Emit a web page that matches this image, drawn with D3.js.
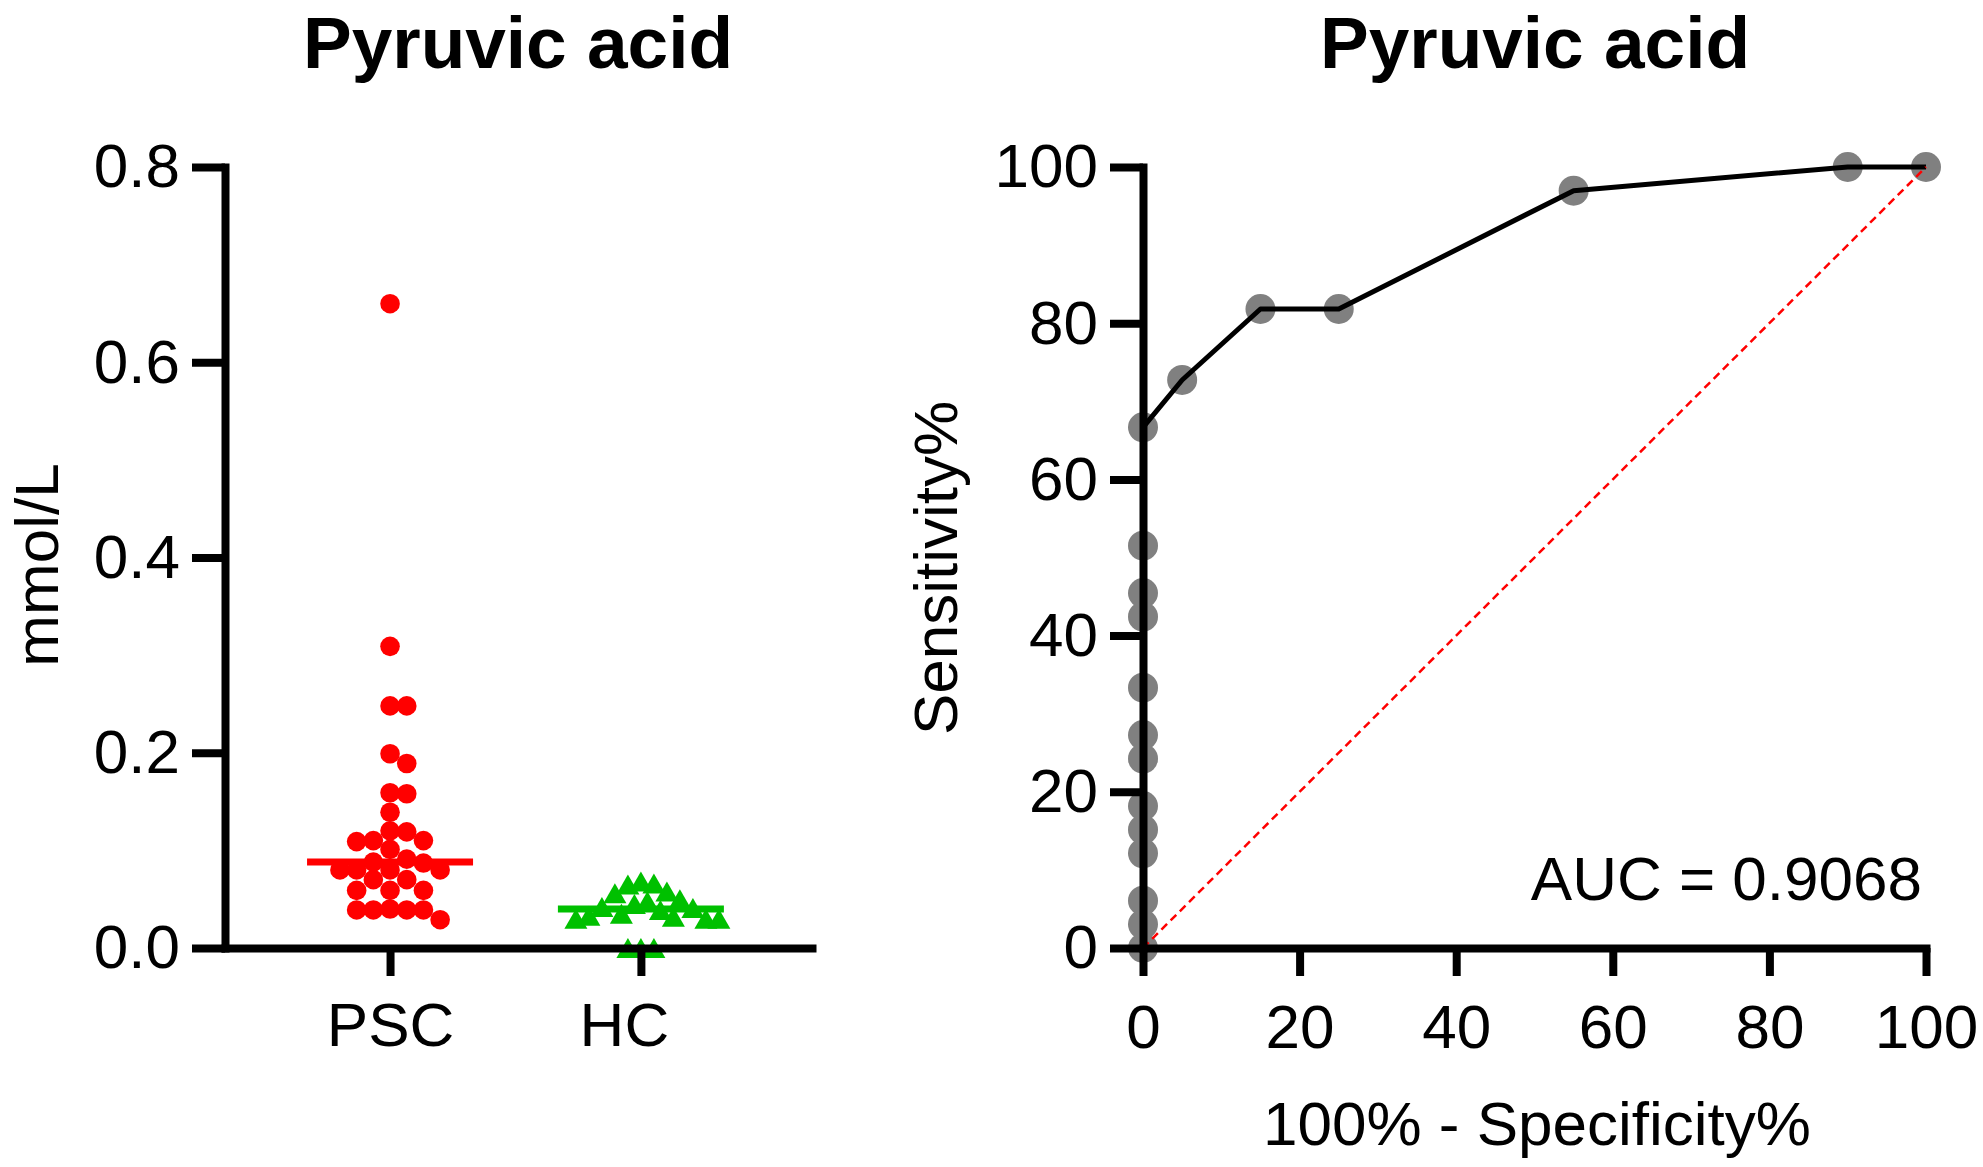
<!DOCTYPE html>
<html><head><meta charset="utf-8">
<script src="https://cdn.jsdelivr.net/npm/d3@7"></script>
<style>
body{margin:0;background:#fff}
text{font-family:"Liberation Sans",Arial,Helvetica,sans-serif;fill:#000}
</style>
</head><body>
<svg id="c" width="1983" height="1167"></svg>
<script>
// ---------- data ----------
const groups = ["PSC", "HC"];
const pscValues = [0.66, 0.309, 0.248, 0.248, 0.199, 0.189, 0.159, 0.158, 0.139, 0.120, 0.119,
  0.110, 0.110, 0.109, 0.101, 0.091, 0.088, 0.087, 0.080, 0.080, 0.080, 0.080, 0.070, 0.070,
  0.059, 0.059, 0.059, 0.040, 0.039, 0.039, 0.039, 0.039, 0.029];
const hcValues = [0.068, 0.066, 0.065, 0.058, 0.056, 0.050, 0.048, 0.045, 0.042, 0.041,
  0.039, 0.035, 0.033, 0.032, 0.030, 0.030, 0.030, 0.0, 0.0, 0.0];
const leftTicks = [0, 0.2, 0.4, 0.6, 0.8];
const rocFPR = [0, 0, 0, 0, 0, 0, 0, 0, 0, 0, 0, 0, 0, 5, 15, 25, 55, 90, 100];
const rocTPR = [0, 3.03, 6.06, 12.12, 15.15, 18.18, 24.24, 27.27, 33.33, 42.42, 45.45, 51.52,
  66.67, 72.73, 81.82, 81.82, 96.97, 100, 100];
const rocTicks = [0, 20, 40, 60, 80, 100];
const titleLeft = "Pyruvic acid", titleRight = "Pyruvic acid";
const yLabelLeft = "mmol/L", yLabelRight = "Sensitivity%", xLabelRight = "100% - Specificity%";
const aucText = "AUC = 0.9068";

// ---------- setup ----------
const svg = d3.select("#c");
const AX = 8, FS = 62;

function styleAxis(g) {
  g.selectAll(".domain").attr("stroke", "#000").attr("stroke-width", AX).attr("stroke-linecap", "square");
  g.selectAll(".tick line").attr("stroke", "#000").attr("stroke-width", AX);
  g.selectAll(".tick text").style("font-size", FS + "px").attr("fill", "#000");
}

// simple beeswarm: elliptical collision (Dx horizontal, Dy vertical)
function swarm(values, yScale, Dx, Dy) {
  const pts = values.map(v => ({v, y: yScale(v)})).sort((a, b) => a.y - b.y);
  const placed = [];
  const step = Dx / 2;
  for (const p of pts) {
    let best = null;
    for (let k = 0; k < 80 && best === null; k++) {
      const offs = k === 0 ? [0] : [k * step, -k * step];
      for (const o of offs) {
        if (placed.every(q => ((q.dx - o) / Dx) ** 2 + ((q.y - p.y) / Dy) ** 2 >= 0.999)) { best = o; break; }
      }
    }
    p.dx = best; placed.push(p);
  }
  return pts;
}

// ---------- left panel ----------
const yL = d3.scaleLinear().domain([0, 0.8]).range([948, 167]);
const xL = d3.scalePoint().domain(groups).range([225, 812]).padding(0.67).align(0.491);

const redPts = swarm(pscValues, yL, 16.7, 16.7);
svg.append("g").selectAll("circle").data(redPts).join("circle")
  .attr("cx", d => xL("PSC") + d.dx).attr("cy", d => d.y).attr("r", 9.8).attr("fill", "#ff0000");

const tw = 23, th = 20;
const greenPts = swarm(hcValues, yL, 13, 20);
svg.append("g").selectAll("path").data(greenPts).join("path")
  .attr("d", d => {
    const cx = xL("HC") + d.dx, cy = d.y;
    return `M${cx},${cy - th / 2}L${cx + tw / 2},${cy + th / 2}L${cx - tw / 2},${cy + th / 2}Z`;
  })
  .attr("fill", "#00c000");

const medHalf = 83;
svg.append("line").attr("x1", xL("PSC") - medHalf).attr("x2", xL("PSC") + medHalf)
  .attr("y1", yL(d3.median(pscValues))).attr("y2", yL(d3.median(pscValues)))
  .attr("stroke", "#ff0000").attr("stroke-width", 7);
svg.append("line").attr("x1", xL("HC") - medHalf).attr("x2", xL("HC") + medHalf)
  .attr("y1", yL(d3.median(hcValues))).attr("y2", yL(d3.median(hcValues)))
  .attr("stroke", "#00c000").attr("stroke-width", 7);

svg.append("g").attr("transform", "translate(225,0)")
  .call(d3.axisLeft(yL).tickValues(leftTicks).tickFormat(d3.format(".1f")).tickSize(33).tickSizeOuter(0).tickPadding(12))
  .call(styleAxis);
const xAxisL = svg.append("g").attr("transform", "translate(0,948)")
  .call(d3.axisBottom(xL).tickSize(28).tickSizeOuter(0).tickPadding(26))
  .call(styleAxis);
xAxisL.selectAll(".tick text").filter(d => d === "HC").attr("dx", -17);

svg.append("text").attr("x", 518).attr("y", 68).attr("text-anchor", "middle")
  .style("font-size", "73px").style("font-weight", "bold").text(titleLeft);
svg.append("text").attr("transform", "translate(58,565) rotate(-90)").attr("text-anchor", "middle")
  .style("font-size", FS + "px").text(yLabelLeft);

// ---------- right panel (ROC) ----------
const xR = d3.scaleLinear().domain([0, 100]).range([1143, 1926]);
const yR = d3.scaleLinear().domain([0, 100]).range([948, 167]);
const roc = rocFPR.map((f, i) => ({f, t: rocTPR[i]}));

svg.append("g").selectAll("circle").data(roc).join("circle")
  .attr("cx", d => xR(d.f)).attr("cy", d => yR(d.t)).attr("r", 15).attr("fill", "#808080");

svg.append("path").datum(roc)
  .attr("d", d3.line().x(d => xR(d.f)).y(d => yR(d.t)))
  .attr("fill", "none").attr("stroke", "#000").attr("stroke-width", 5).attr("stroke-linejoin", "round");

svg.append("line").attr("x1", xR(0)).attr("y1", yR(0)).attr("x2", xR(100)).attr("y2", yR(100))
  .attr("stroke", "#ff0000").attr("stroke-width", 2.5).attr("stroke-dasharray", "8,5");

svg.append("g").attr("transform", "translate(1143,0)")
  .call(d3.axisLeft(yR).tickValues(rocTicks).tickFormat(d3.format("d")).tickSize(33).tickSizeOuter(0).tickPadding(12))
  .call(styleAxis);
svg.append("g").attr("transform", "translate(0,948)")
  .call(d3.axisBottom(xR).tickValues(rocTicks).tickFormat(d3.format("d")).tickSize(28).tickSizeOuter(0).tickPadding(28))
  .call(styleAxis);

svg.append("text").attr("x", 1535).attr("y", 68).attr("text-anchor", "middle")
  .style("font-size", "73px").style("font-weight", "bold").text(titleRight);
svg.append("text").attr("transform", "translate(957,568) rotate(-90)").attr("text-anchor", "middle")
  .style("font-size", FS + "px").text(yLabelRight);
svg.append("text").attr("x", 1537).attr("y", 1145).attr("text-anchor", "middle")
  .style("font-size", FS + "px").text(xLabelRight);
svg.append("text").attr("x", 1922).attr("y", 900).attr("text-anchor", "end")
  .style("font-size", FS + "px").text(aucText);
</script>
</body></html>
